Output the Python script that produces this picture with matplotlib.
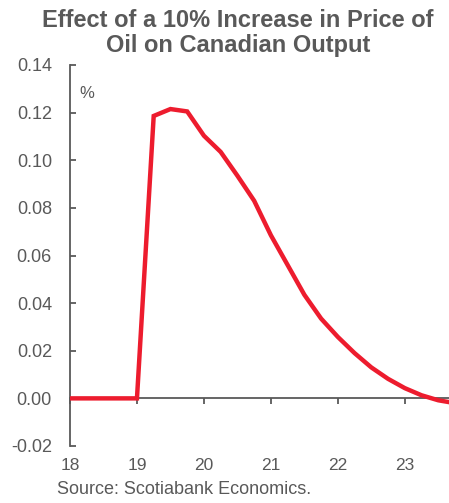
import matplotlib
matplotlib.use("Agg")
import matplotlib.pyplot as plt

plt.rcParams['font.family'] = ['Liberation Sans', 'DejaVu Sans']

# quarterly points, x in years (18 = 2018)
years = [18.0, 18.25, 18.5, 18.75, 19.0, 19.25, 19.5, 19.75, 20.0, 20.25,
         20.5, 20.75, 21.0, 21.25, 21.5, 21.75, 22.0, 22.25, 22.5, 22.75,
         23.0, 23.25, 23.5, 23.75]
effect = [0.0, 0.0, 0.0, 0.0, 0.0, 0.1186, 0.1215, 0.1205, 0.1103, 0.1035,
          0.0935, 0.0830, 0.0685, 0.0560, 0.0435, 0.0335, 0.0258, 0.0190,
          0.0130, 0.0082, 0.0043, 0.0013, -0.0008, -0.0020]
xticks = [18, 19, 20, 21, 22, 23]
yticks = [-0.02, 0.00, 0.02, 0.04, 0.06, 0.08, 0.10, 0.12, 0.14]

gray = '#595959'
red = '#ED1C2E'

fig = plt.figure(figsize=(4.49, 5.03), dpi=100)
ax = fig.add_axes([70 / 449, 1 - 446 / 503, 379 / 449, 381 / 503])

ax.plot(years, effect, color=red, linewidth=3.2, solid_joinstyle='miter', zorder=3)

ax.set_xlim(18, 23.66)
ax.set_ylim(-0.02, 0.14)

for s in ['top', 'right']:
    ax.spines[s].set_visible(False)
ax.spines['left'].set_color(gray)
ax.spines['left'].set_linewidth(1.3)
ax.spines['bottom'].set_position(('data', 0))
ax.spines['bottom'].set_color(gray)
ax.spines['bottom'].set_linewidth(1.3)

ax.set_yticks(yticks)
ax.set_yticklabels([f"{v:.2f}" for v in yticks])
ax.tick_params(axis='y', direction='in', length=4, width=1.3, color=gray,
               labelcolor=gray, labelsize=13, pad=13)

ax.set_xticks(xticks)
ax.tick_params(axis='x', direction='out', length=4, width=1.3, color=gray,
               labelbottom=False)

# labels sit under the plot area, not under the zero line
sec = ax.secondary_xaxis('bottom')
sec.set_xticks(xticks)
sec.spines['bottom'].set_visible(False)
sec.tick_params(axis='x', length=0, labelcolor=gray, labelsize=12.5, pad=9)

ax.text(0.026, 0.925, '%', transform=ax.transAxes, color=gray, fontsize=12,
        ha='left', va='center')

fig.text(238 / 449, 1 - 33 / 503, "Effect of a 10% Increase in Price of\nOil on Canadian Output",
         ha='center', va='center', fontsize=17, fontweight='bold', color=gray,
         linespacing=1.12)
fig.text(57 / 449, 1 - 490 / 503, "Source: Scotiabank Economics.", ha='left', va='center',
         fontsize=13, color=gray)

fig.savefig("out.png", dpi=100)
